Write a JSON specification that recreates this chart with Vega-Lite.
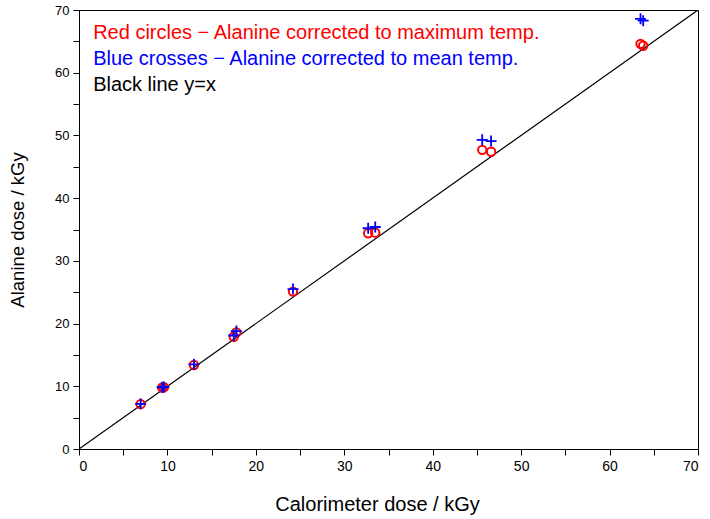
{
  "$schema": "https://vega.github.io/schema/vega-lite/v6.json",
  "width": 619,
  "height": 439,
  "autosize": {"type": "none"},
  "padding": {"left": 79, "top": 10, "right": 12, "bottom": 70},
  "background": "white",
  "config": {
    "view": {"stroke": "black", "strokeWidth": 1},
    "font": "Liberation Sans",
    "axis": {
      "grid": false,
      "domainColor": "black",
      "tickColor": "black",
      "labelColor": "black",
      "titleColor": "black",
      "labelFont": "Liberation Sans",
      "titleFont": "Liberation Sans",
      "labelFontSize": 13,
      "titleFontSize": 17,
      "titleFontWeight": "normal",
      "tickSize": 6,
      "domainWidth": 1,
      "tickWidth": 1
    }
  },
  "datasets": {
    "pts": [
      {"cal": 6.97, "ala": 7.15, "series": "max"},
      {"cal": 9.4, "ala": 9.8, "series": "max"},
      {"cal": 9.6, "ala": 9.85, "series": "max"},
      {"cal": 13.0, "ala": 13.4, "series": "max"},
      {"cal": 17.5, "ala": 17.9, "series": "max"},
      {"cal": 17.8, "ala": 18.6, "series": "max"},
      {"cal": 24.2, "ala": 25.1, "series": "max"},
      {"cal": 32.7, "ala": 34.4, "series": "max"},
      {"cal": 33.5, "ala": 34.5, "series": "max"},
      {"cal": 45.6, "ala": 47.7, "series": "max"},
      {"cal": 46.6, "ala": 47.4, "series": "max"},
      {"cal": 63.5, "ala": 64.6, "series": "max"},
      {"cal": 63.8, "ala": 64.3, "series": "max"},
      {"cal": 6.97, "ala": 7.2, "series": "mean"},
      {"cal": 9.4, "ala": 9.85, "series": "mean"},
      {"cal": 9.6, "ala": 9.9, "series": "mean"},
      {"cal": 13.0, "ala": 13.5, "series": "mean"},
      {"cal": 17.5, "ala": 18.1, "series": "mean"},
      {"cal": 17.8, "ala": 18.8, "series": "mean"},
      {"cal": 24.2, "ala": 25.5, "series": "mean"},
      {"cal": 32.7, "ala": 35.2, "series": "mean"},
      {"cal": 33.5, "ala": 35.4, "series": "mean"},
      {"cal": 45.6, "ala": 49.3, "series": "mean"},
      {"cal": 46.6, "ala": 49.1, "series": "mean"},
      {"cal": 63.5, "ala": 68.6, "series": "mean"},
      {"cal": 63.8, "ala": 68.3, "series": "mean"}
    ],
    "diag": [{"cal": 0, "ala": 0}, {"cal": 70, "ala": 70}],
    "notes": [
      {"cal": 1.6, "ala": 65.35, "txt": "Red circles − Alanine corrected to maximum temp.", "col": "red"},
      {"cal": 1.6, "ala": 61.2, "txt": "Blue crosses − Alanine corrected to mean temp.", "col": "blue"},
      {"cal": 1.6, "ala": 57.05, "txt": "Black line y=x", "col": "black"}
    ]
  },
  "encoding": {
    "x": {
      "field": "cal", "type": "quantitative",
      "scale": {"domain": [0, 70], "nice": false, "zero": false},
      "axis": {
        "title": "Calorimeter dose / kGy",
        "titleFontSize": 20,
        "labelFontSize": 14,
        "values": [0,5,10,15,20,25,30,35,40,45,50,55,60,65,70],
        "labelExpr": "datum.value % 10 == 0 ? datum.label : ''",
        "labelPadding": 4,
        "titlePadding": 21,
        "titleX": 298,
        "titleAlign": "center"
      }
    },
    "y": {
      "field": "ala", "type": "quantitative",
      "scale": {"domain": [0, 70], "nice": false, "zero": false},
      "axis": {
        "title": "Alanine dose / kGy",
        "titleFontSize": 18.5,
        "labelFontSize": 13,
        "values": [0,5,10,15,20,25,30,35,40,45,50,55,60,65,70],
        "labelExpr": "datum.value % 10 == 0 ? datum.label : ''",
        "labelPadding": 4,
        "titlePadding": 27
      }
    }
  },
  "layer": [
    {
      "data": {"name": "diag"},
      "mark": {"type": "line", "color": "black", "strokeWidth": 1.2, "clip": true}
    },
    {
      "data": {"name": "pts"},
      "transform": [{"filter": "datum.series == 'max'"}],
      "mark": {"type": "point", "shape": "circle", "filled": false, "color": "red", "opacity": 1, "strokeWidth": 2, "size": 70}
    },
    {
      "data": {"name": "pts"},
      "transform": [{"filter": "datum.series == 'mean'"}],
      "mark": {"type": "point", "shape": "M-1,0H1M0,-1V1", "filled": false, "color": "blue", "opacity": 1, "strokeWidth": 1.8, "size": 121}
    },
    {
      "data": {"name": "notes"},
      "mark": {"type": "text", "align": "left", "baseline": "alphabetic", "fontSize": 20, "font": "Liberation Sans"},
      "encoding": {
        "text": {"field": "txt"},
        "color": {"field": "col", "type": "nominal", "scale": null}
      }
    }
  ]
}
